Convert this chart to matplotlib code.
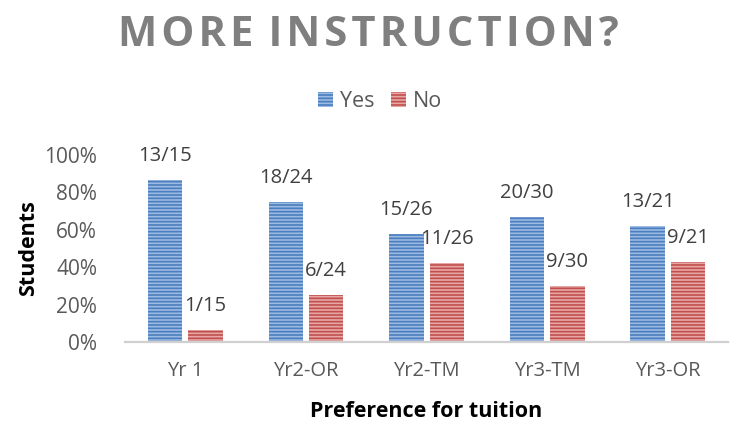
import matplotlib
matplotlib.use("Agg")
import matplotlib.pyplot as plt
import numpy as np

categories = ["Yr 1", "Yr2-OR", "Yr2-TM", "Yr3-TM", "Yr3-OR"]
yes_num = [13, 18, 15, 20, 13]
no_num = [1, 6, 11, 9, 9]
totals = [15, 24, 26, 30, 21]
yes_vals = [n / t for n, t in zip(yes_num, totals)]
no_vals = [n / t for n, t in zip(no_num, totals)]
yticks = [0, 0.2, 0.4, 0.6, 0.8, 1.0]
ytick_labels = ["0%", "20%", "40%", "60%", "80%", "100%"]

plt.rcParams['font.family'] = ['Open Sans', 'DejaVu Sans']
plt.rcParams['hatch.linewidth'] = 1.2

fig = plt.figure(figsize=(7.31, 4.21), dpi=100)
ax = fig.add_axes([0.171, 0.1876, 0.825, 0.4444])

x = np.arange(len(categories))
w = 0.285
gap = 0.025
blue_face = "#9cbae2"
blue_line = "#4a7ebf"
red_face = "#e8a6a4"
red_line = "#c0504d"

b1 = ax.bar(x - w / 2 - gap, yes_vals, w, color=blue_face, edgecolor=blue_line,
            linewidth=0, hatch="-----", label="Yes")
b2 = ax.bar(x + w / 2 + gap, no_vals, w, color=red_face, edgecolor=red_line,
            linewidth=0, hatch="-----", label="No")

for xi, v, n, t in zip(x, yes_vals, yes_num, totals):
    ax.annotate(f"{n}/{t}", (xi - w / 2 - gap, v), xytext=(0, 10), textcoords="offset points",
                ha="center", va="bottom", fontsize=14.5, color="#404040", clip_on=False)
for xi, v, n, t in zip(x, no_vals, no_num, totals):
    ax.annotate(f"{n}/{t}", (xi + w / 2 + gap, v), xytext=(0, 10), textcoords="offset points",
                ha="center", va="bottom", fontsize=14.5, color="#404040", clip_on=False)

ax.set_xlim(-0.5, len(categories) - 0.5)
ax.set_ylim(0, 1)
ax.set_yticks(yticks)
ax.set_yticklabels(ytick_labels, fontsize=15, color="#595959")
ax.set_xticks(x)
ax.set_xticklabels(categories, fontsize=14.5, color="#595959")
ax.tick_params(axis="x", length=0, pad=14)
ax.tick_params(axis="y", length=0, pad=20)
for s in ["top", "right", "left"]:
    ax.spines[s].set_visible(False)
ax.spines["bottom"].set_color("#d0d0d0")
ax.spines["bottom"].set_linewidth(1.6)

ax.set_ylabel("Students", fontsize=15.5, fontweight="bold", color="black", labelpad=4)
ax.set_xlabel("Preference for tuition", fontsize=15.5, fontweight="bold", color="black", labelpad=14)

title = "\u200a".join(list("MORE")) + " \u200a" + "\u200a".join(list("INSTRUCTION?"))
fig.text(0.504, 0.8907, title, ha="center", va="baseline",
         fontsize=30, fontweight="bold", color="#7f7f7f")

leg = fig.legend(handles=[b1, b2], labels=["Yes", "No"], loc="center", bbox_to_anchor=(0.52, 0.758),
                 ncol=2, frameon=False, fontsize=15.5, handlelength=0.7, handleheight=0.7,
                 handletextpad=0.3, columnspacing=0.8, labelcolor="#595959")

fig.savefig("out.png", dpi=100)
